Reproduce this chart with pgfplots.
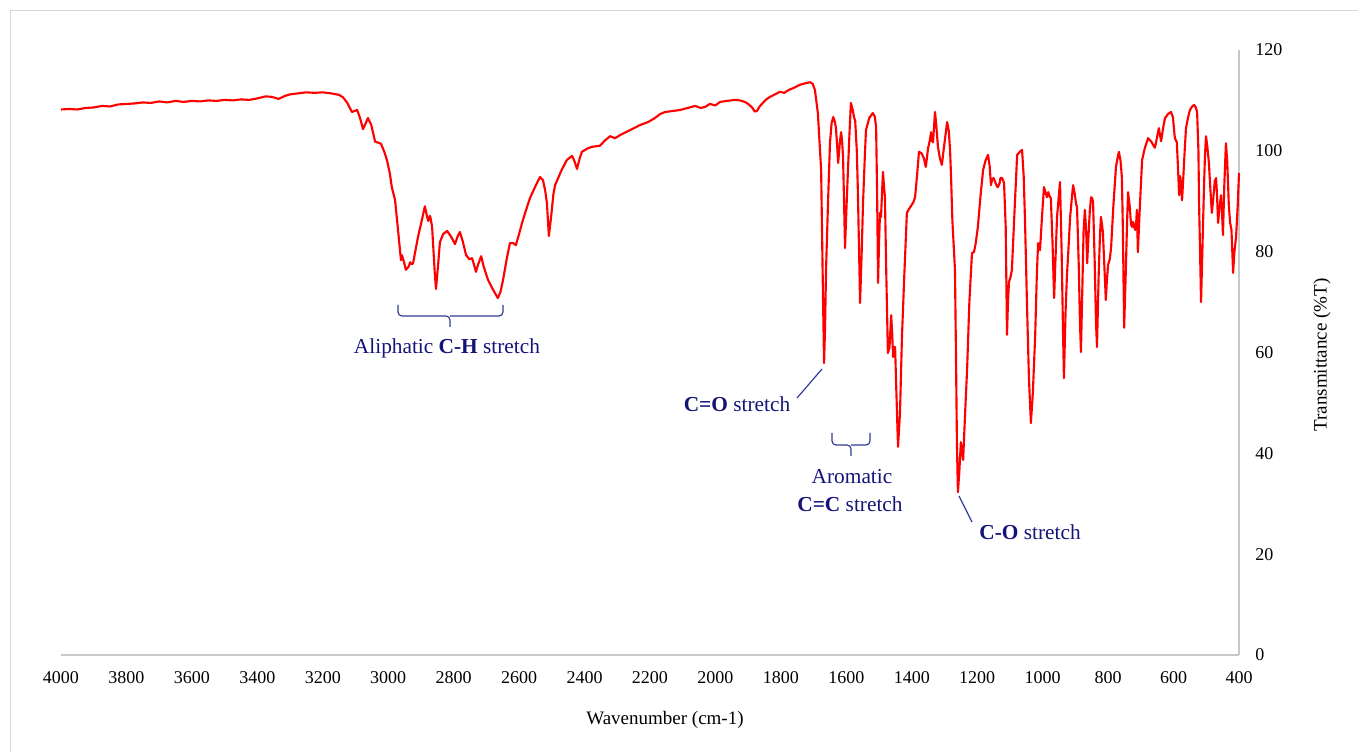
\documentclass[border=0pt]{standalone}
\usepackage{pgfplots}
\pgfplotsset{compat=1.18}
\usepackage{fontspec}
\setmainfont{Liberation Serif}
\definecolor{annot}{RGB}{20,20,120}
\definecolor{annline}{RGB}{50,60,150}
\definecolor{axgray}{RGB}{200,200,200}
\begin{document}
\begin{tikzpicture}
\useasboundingbox (0pt,0pt) rectangle (1018.5pt,564pt);
\begin{scope}[x=0.75pt, y=-0.75pt, yshift=564pt]
\draw[axgray!70, line width=0.75pt] (10,752) -- (10,11) -- (1358,11);
\draw[axgray, line width=0.9pt] (61,655) -- (1239,655);
\draw[axgray, line width=0.9pt] (1239,50) -- (1239,655);
\end{scope}
\begin{axis}[at={(45.75pt,72.75pt)}, anchor=south west, scale only axis,
  width=883.5pt, height=453.75pt,
  x dir=reverse, xmin=400, xmax=4000, ymin=0, ymax=120,
  xtick={400,600,...,4000}, ytick={0,20,...,120},
  axis line style={draw=none}, major tick length=0pt, tick style={draw=none},
  yticklabel pos=right,
  ticklabel style={font=\fontsize{13.5}{16}\selectfont},
  /pgf/number format/assume math mode=true, /pgf/number format/1000 sep={},
  xticklabel style={anchor=north, inner sep=0pt, yshift=-12pt},
  yticklabel style={anchor=west, inner sep=0pt, xshift=12pt},
  clip=false]
\addplot[red, line width=1.6pt, line join=round, mark=none] coordinates {
(4000,108.2)(3975,108.3)(3950,108.2)(3925,108.5)(3900,108.6)(3875,108.9)(3850,108.8)(3825,109.2)
(3800,109.3)(3775,109.4)(3750,109.6)(3725,109.5)(3700,109.8)(3675,109.6)(3650,109.9)(3625,109.7)
(3600,109.9)(3575,109.8)(3550,110.0)(3525,109.9)(3500,110.1)(3475,110.0)(3450,110.2)(3425,110.1)
(3400,110.4)(3375,110.8)(3355,110.7)(3335,110.3)(3315,110.9)(3300,111.2)(3275,111.4)(3250,111.6)
(3225,111.5)(3200,111.6)(3175,111.4)(3150,111.1)(3138,110.6)(3125,109.5)(3111,107.7)(3103,107.9)
(3095,108.1)(3086,106.5)(3077,104.3)(3070,105.3)(3062,106.5)(3052,105.2)(3040,101.8)(3030,101.6)
(3022,101.4)(3012,99.8)(3004,98.2)(2995,95.5)(2989,92.8)(2979,90.2)(2970,84.3)(2961,78.3)
(2958,79.3)(2952,78.0)(2946,76.4)(2938,77.0)(2933,77.9)(2928,77.5)(2924,77.7)(2916,80.5)
(2909,82.9)(2898,86.0)(2888,89.0)(2883,87.5)(2878,86.1)(2872,87.1)(2866,85.0)(2863,81.7)
(2858,76.0)(2854,72.6)(2848,77.0)(2842,81.9)(2832,83.5)(2820,84.1)(2808,83.0)(2796,81.5)
(2788,83.0)(2781,83.9)(2772,82.0)(2762,79.3)(2752,78.5)(2744,78.7)(2738,77.5)(2732,76.0)
(2725,77.5)(2716,79.1)(2708,77.0)(2695,74.4)(2680,72.5)(2665,70.8)(2657,72.0)(2649,74.4)
(2638,78.5)(2628,81.7)(2618,81.7)(2610,81.3)(2600,83.5)(2591,85.7)(2580,88.0)(2567,90.6)
(2550,93.0)(2536,94.8)(2527,94.2)(2520,92.0)(2515,89.6)(2509,83.1)(2502,87.0)(2495,91.5)
(2490,93.2)(2470,96.2)(2454,98.2)(2438,99.0)(2430,97.8)(2423,96.4)(2415,98.5)(2408,99.8)
(2390,100.5)(2377,100.8)(2353,101.0)(2337,102.1)(2322,102.9)(2307,102.5)(2292,103.1)(2261,104.1)
(2231,105.1)(2206,105.7)(2185,106.5)(2169,107.3)(2154,107.7)(2130,107.9)(2108,108.1)(2085,108.5)
(2062,108.9)(2045,108.5)(2032,108.7)(2017,109.3)(2000,109.0)(1986,109.7)(1965,109.9)(1940,110.1)
(1925,110.0)(1910,109.7)(1898,109.2)(1888,108.6)(1880,107.8)(1873,107.9)(1865,108.8)(1858,109.3)
(1845,110.2)(1833,110.7)(1818,111.2)(1803,111.7)(1790,111.5)(1775,112.1)(1760,112.5)(1742,113.1)
(1725,113.4)(1711,113.6)(1703,113.3)(1696,112.1)(1687,107.5)(1677,96.2)(1671,69.8)(1668,57.9)
(1665,65.0)(1662,76.4)(1656,89.6)(1650,101.5)(1645,105.5)(1640,106.7)(1636,106.0)(1632,104.7)
(1628,101.0)(1625,97.6)(1620,101.5)(1616,103.7)(1613,102.0)(1610,98.8)(1607,90.0)(1604,80.7)
(1600,88.0)(1595,96.2)(1590,104.0)(1586,109.5)(1580,108.0)(1576,106.5)(1573,106.1)(1568,100.0)
(1565,92.8)(1561,80.0)(1558,69.8)(1553,80.0)(1549,89.6)(1544,98.0)(1540,104.1)(1530,106.5)
(1519,107.5)(1513,106.8)(1509,104.7)(1506,92.0)(1503,73.8)(1500,82.0)(1497,87.7)(1494,86.9)
(1490,93.0)(1488,95.8)(1485,93.0)(1482,90.8)(1478,76.0)(1473,59.9)(1468,61.0)(1463,67.4)
(1460,64.0)(1457,59.1)(1454,61.1)(1451,61.1)(1447,52.0)(1442,41.3)(1436,48.0)(1430,63.1)
(1423,75.0)(1415,87.7)(1408,88.5)(1400,89.3)(1395,89.8)(1390,90.8)(1384,95.0)(1378,99.8)
(1370,99.5)(1363,98.5)(1357,96.8)(1353,99.0)(1350,100.6)(1345,102.0)(1341,103.7)(1339,102.0)
(1335,101.7)(1329,107.7)(1325,105.0)(1320,100.8)(1314,98.5)(1308,97.2)(1302,100.5)(1292,105.7)
(1287,104.0)(1283,100.2)(1280,95.0)(1276,86.3)(1268,76.4)(1265,60.0)(1262,42.0)(1259,32.3)
(1255,36.0)(1250,42.2)(1246,40.0)(1243,38.7)(1237,48.0)(1231,56.5)(1224,70.0)(1216,79.7)
(1210,79.9)(1205,81.5)(1198,84.9)(1190,91.0)(1182,96.2)(1175,98.0)(1167,99.2)(1162,97.0)
(1158,93.2)(1155,94.2)(1150,94.6)(1145,93.8)(1140,93.0)(1137,92.8)(1132,93.5)(1129,94.6)
(1124,94.6)(1118,93.6)(1113,85.0)(1109,63.5)(1106,70.0)(1103,74.0)(1098,75.0)(1094,76.4)
(1086,88.0)(1078,99.2)(1070,99.8)(1063,100.2)(1058,95.0)(1054,86.3)(1048,69.8)(1042,55.0)
(1036,46.0)(1030,52.0)(1023,63.1)(1018,75.0)(1014,81.7)(1010,80.8)(1008,80.3)(1002,87.0)
(996,92.8)(990,91.5)(987,90.8)(983,91.8)(979,91.0)(975,90.6)(970,82.0)(965,70.8)
(960,80.0)(956,87.0)(950,91.5)(947,93.8)(942,80.0)(938,65.0)(935,54.9)(930,68.0)
(926,75.0)(920,82.0)(916,86.9)(911,90.5)(907,93.2)(902,91.5)(898,89.5)(895,88.9)
(890,78.0)(886,66.0)(883,60.1)(878,75.0)(875,84.0)(871,88.3)(867,84.0)(864,77.7)
(860,83.0)(856,88.0)(852,90.8)(848,90.5)(846,89.8)(841,78.0)(837,66.0)(834,61.1)
(829,75.0)(825,83.0)(822,86.9)(819,85.5)(816,83.9)(812,78.0)(807,70.4)(804,74.0)
(800,77.4)(795,78.5)(791,80.7)(784,89.0)(776,96.8)(770,99.0)(767,99.8)(762,98.0)
(758,94.8)(755,85.0)(751,64.9)(746,76.0)(742,86.0)(739,91.8)(734,89.0)(730,85.5)
(727,84.9)(724,85.9)(720,84.8)(717,84.3)(714,86.0)(712,88.3)(709,79.9)(705,86.0)
(700,93.0)(696,98.2)(688,100.5)(678,102.5)(668,101.8)(657,100.6)(651,102.5)(645,104.5)
(641,103.0)(638,101.9)(632,104.5)(626,106.5)(617,107.3)(608,107.7)(602,106.7)(596,102.5)
(590,101.7)(586,96.0)(583,91.2)(580,95.0)(577,93.5)(574,90.2)(570,95.0)(566,100.0)
(562,104.5)(556,106.5)(550,108.1)(543,108.8)(537,109.1)(532,108.6)(528,107.7)(524,100.0)
(522,89.6)(519,80.0)(516,70.0)(512,80.0)(507,92.8)(504,99.0)(501,102.9)(497,101.0)
(492,97.6)(488,93.0)(483,87.7)(478,91.0)(474,94.0)(470,94.6)(467,91.0)(464,85.7)
(460,88.5)(455,91.2)(452,88.0)(449,83.3)(445,93.0)(440,101.5)(436,98.0)(431,89.0)
(427,85.7)(423,84.3)(418,75.8)(414,80.0)(409,82.9)(404,89.0)(400,95.6)
};
\end{axis}
\begin{scope}[x=0.75pt, y=-0.75pt, yshift=564pt]
\begin{scope}[annline, line width=0.9pt, rounded corners=3]
\draw (398,305) |- (450,316) -- (450,327);
\draw (503,305) |- (450,316);
\draw (832,433) |- (851,445) -- (851,456);
\draw (870,433) |- (851,445);
\end{scope}
\draw[annline, line width=0.9pt] (797,398) -- (822,369);
\draw[annline, line width=0.9pt] (959,496) -- (972,522);
\begin{scope}[every node/.style={text=annot, font=\fontsize{16}{19}\selectfont, inner sep=0pt}]
\node at (447,348) {Aliphatic \textbf{C-H} stretch};
\node at (737,404) {\textbf{C=O} stretch};
\node at (852,477) {Aromatic};
\node at (850,504) {\textbf{C=C} stretch};
\node at (1030,532) {\textbf{C-O} stretch};
\end{scope}
\node[font=\fontsize{14.25}{17}\selectfont, inner sep=0pt] at (665,720) {Wavenumber (cm-1)};
\node[font=\fontsize{14.25}{17}\selectfont, inner sep=0pt, rotate=90] at (1322,355) {Transmittance (\%T)};
\end{scope}
\end{tikzpicture}
\end{document}
